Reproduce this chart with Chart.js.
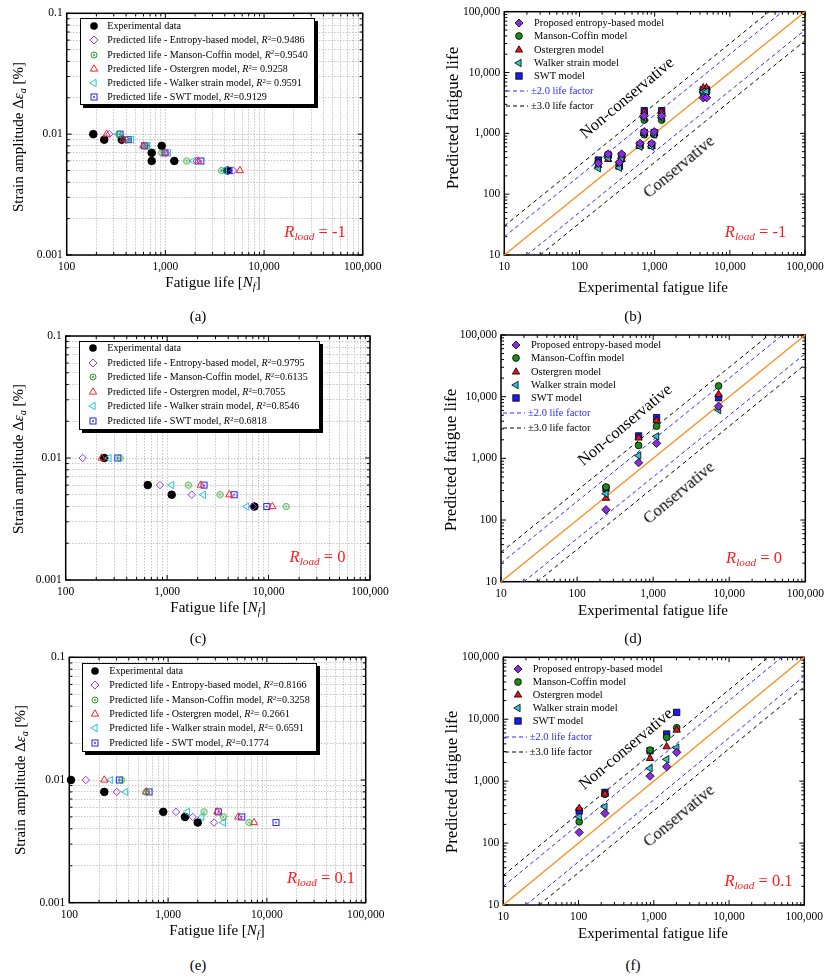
<!DOCTYPE html>
<html>
<head>
<meta charset="utf-8">
<title>Fatigue life predictions</title>
<script src="https://cdn.jsdelivr.net/npm/chart.js@4.4.1/dist/chart.umd.min.js"></script>
<style>
  html, body { margin: 0; padding: 0; background: #fff; }
  #page { position: relative; width: 829px; height: 980px; overflow: hidden;
          font-family: 'Liberation Serif', 'Times New Roman', serif; color: #000; }
  #page canvas { position: absolute; }
  .t { position: absolute; white-space: nowrap; line-height: 1; transform: translate(-50%, -50%); }
  .l { position: absolute; white-space: nowrap; line-height: 1; transform: translate(0, -50%); font-size: 10.5px; }
  .ls { font-size: 10.1px; }
  .rot { transform: translate(-50%, -50%) rotate(-90deg); }
  .diag { transform: translate(-50%, -50%) rotate(-40deg); font-size: 16.5px; }
  .ttl { font-size: 15px; }
  .pl { font-size: 15px; }
  .rl { color: #ff1a1a; font-size: 16.5px; }
  sub, sup { font-size: 68%; line-height: 0; position: relative; vertical-align: baseline; }
  sub { top: 0.3em; }
  sup { top: -0.45em; }
  .legbox { position: absolute; background: #fff; border: 1px solid #000; box-shadow: 3px 3px 0 #000; }
  svg { display: block; }
</style>
</head>
<body>
<div id="page"></div>
<script>
// ---------- data ----------
// axis ranges
const strainRange = [0.001, 0.1];
const lifeRange = [100, 100000];
const predRange = [10, 100000];

// (a) R_load = -1 : strain amplitude vs. fatigue life
const expLifeA   = [186, 240, 361, 918, 727, 727, 1232, 4270];
const expStrainA = [0.01, 0.009, 0.009, 0.008, 0.007, 0.006, 0.006, 0.005];
const strainA    = [0.01, 0.009, 0.008, 0.007, 0.006, 0.005];
const entropyA   = [270, 399, 621, 1010, 2074, 4875];
const mansonA    = [340, 410, 640, 918, 1644, 3716];
const ostergrenA = [254, 374, 597, 1000, 2153, 5700];
const walkerA    = [333, 455, 661, 1071, 1920, 3955];
const swtA       = [347, 421, 615, 991, 2290, 4410];
const r2A = ['0.9486', '0.9540', ' 0.9258', ' 0.9591', '0.9129'];

// (b) R_load = -1 : predicted vs. experimental life
const expB       = [178, 241, 339, 364, 638, 728, 728, 912, 988, 1239, 4430, 4900];
const entropyB   = [321, 457, 334, 457, 684, 1950, 1062, 684, 1062, 1950, 3850, 3850];
const mansonB    = [335, 420, 300, 420, 640, 1650, 950, 640, 950, 1650, 4600, 4700];
const ostergrenB = [300, 373, 280, 373, 610, 2250, 1000, 610, 1000, 2250, 5600, 5600];
const walkerB    = [266, 390, 272, 388, 603, 1800, 980, 603, 960, 1800, 4830, 4830];
const swtB       = [364, 440, 310, 430, 650, 2357, 1030, 650, 1030, 2357, 5200, 5200];

// (c) and (d) R_load = 0
const expLifeC   = [240, 644, 1109, 7244];
const strainC    = [0.01, 0.006, 0.005, 0.004];
const entropyC   = [147, 851, 1750, 7000];
const mansonC    = [343, 1618, 3326, 14900];
const ostergrenC = [226, 2142, 4104, 10900];
const walkerC    = [267, 1109, 2275, 6095];
const swtC       = [326, 2311, 4570, 9600];
const r2C = ['0.9795', '0.6135', '0.7055', '0.8546', '0.6818'];

// (e) R_load = 0.1
const expLifeE   = [104, 226, 893, 1483, 1995];
const strainE    = [0.01, 0.008, 0.0055, 0.005, 0.0045];
const entropyE   = [147, 302, 1202, 1774, 2918];
const mansonE    = [339, 600, 2306, 3624, 6590];
const ostergrenE = [226, 597, 3147, 5130, 7413];
const walkerE    = [262, 372, 1564, 2188, 3624];
const swtE       = [321, 641, 3222, 5560, 12360];
const r2E = ['0.8166', '0.3258', ' 0.2661', ' 0.6591', '0.1774'];

// (f) R_load = 0.1
const expF       = [102, 224, 891, 1483, 2014];
const entropyF   = [149, 302, 1208, 1710, 2920];
const mansonF    = [221, 612, 3177, 5100, 7290];
const ostergrenF = [363, 620, 2334, 3600, 6700];
const walkerF    = [266, 386, 1611, 2250, 3470];
const swtF       = [329, 659, 3100, 5770, 12900];

// reference lines (end points)
const equalX  = [10, 100000],  equalY  = [10, 100000];
const upper2X = [10, 50000],   upper2Y = [20, 100000];
const lower2X = [20, 100000],  lower2Y = [10, 50000];
const upper3X = [10, 33333],   upper3Y = [30, 100000];
const lower3X = [30, 100000],  lower3Y = [10, 33333];

const modelNamesL = ['Entropy-based model', 'Manson-Coffin model', 'Ostergren model', 'Walker strain model', 'SWT model'];
const modelNamesR = ['Proposed entropy-based model', 'Manson-Coffin model', 'Ostergren model', 'Walker strain model', 'SWT model'];
const rLoads = ['-1', '0', '0.1'];

// ---------- styling / layout ----------
const SERIF = "'Liberation Serif', 'Times New Roman', serif";
const openCol = { entropy: '#9b35e8', manson: '#1f9d1f', ostergren: '#ff1f1f', walker: '#22c4d4', swt: '#1f1fff' };
const fillCol = { entropy: '#8a2be2', manson: '#1e8a1e', ostergren: '#e8101a', walker: '#2ec6cc', swt: '#1a1af5' };

// canvas box [left, top, width, height] and plot area [left, top, right, bottom]
const PANELS = {
  a: { box: [0, 0, 410, 300],     area: [66.7, 13.3, 362.7, 255] },
  b: { box: [415, 0, 414, 300],   area: [504.3, 11.7, 805, 255] },
  c: { box: [0, 322, 410, 300],   area: [65.7, 336, 370, 580] },
  d: { box: [415, 322, 414, 300], area: [501, 335, 805.7, 581.7] },
  e: { box: [0, 644, 410, 300],   area: [69.3, 657.3, 365.7, 902.7] },
  f: { box: [415, 644, 414, 300], area: [503.3, 657.3, 804.3, 905] }
};

const page = document.getElementById('page');

function isMajor(v) {
  const l = Math.log10(v);
  return Math.abs(l - Math.round(l)) < 1e-6;
}
function fmt(v) {
  return v >= 1 ? v.toLocaleString('en-US') : String(+v.toPrecision(3));
}
function logTicks(min, max) {
  const t = [];
  for (let d = min; d < max * 0.999; d *= 10) {
    for (let m = 1; m < 10; m++) t.push(+(m * d).toPrecision(6));
  }
  t.push(max);
  return t;
}
function pts(xs, ys) {
  return xs.map((v, i) => ({ x: v, y: ys[i] }));
}

// marker images for the open circle / square with a centre dot
function dotMarker(kind, color) {
  const c = document.createElement('canvas');
  c.width = c.height = 9;
  const g = c.getContext('2d');
  g.strokeStyle = color; g.fillStyle = color; g.lineWidth = 1;
  if (kind === 'circle') {
    g.beginPath(); g.arc(4.5, 4.5, 3, 0, Math.PI * 2); g.stroke();
  } else {
    g.strokeRect(1.5, 1.5, 6, 6);
  }
  g.beginPath(); g.arc(4.5, 4.5, 0.9, 0, Math.PI * 2); g.fill();
  return c;
}

// frame box + inward ticks on all four sides
const framePlugin = {
  id: 'frame',
  beforeDatasetsDraw(chart) {
    const { ctx, chartArea: a, scales } = chart;
    ctx.save();
    ctx.strokeStyle = '#000';
    ctx.lineWidth = 1;
    ctx.beginPath();
    scales.x.ticks.forEach(t => {
      const p = scales.x.getPixelForValue(t.value);
      const len = isMajor(t.value) ? 5 : 3;
      ctx.moveTo(p, a.bottom); ctx.lineTo(p, a.bottom - len);
      ctx.moveTo(p, a.top); ctx.lineTo(p, a.top + len);
    });
    scales.y.ticks.forEach(t => {
      const p = scales.y.getPixelForValue(t.value);
      const len = isMajor(t.value) ? 5 : 3;
      ctx.moveTo(a.left, p); ctx.lineTo(a.left + len, p);
      ctx.moveTo(a.right, p); ctx.lineTo(a.right - len, p);
    });
    ctx.stroke();
    ctx.lineWidth = 1.5;
    ctx.strokeRect(a.left, a.top, a.right - a.left, a.bottom - a.top);
    ctx.restore();
  }
};

function makePanel(key, datasets, xRange, yRange, showGrid) {
  const [bl, bt, bw, bh] = PANELS[key].box;
  const [al, at, ar, ab] = PANELS[key].area;
  const cv = document.createElement('canvas');
  cv.width = bw; cv.height = bh;
  cv.style.left = bl + 'px'; cv.style.top = bt + 'px';
  cv.style.width = bw + 'px'; cv.style.height = bh + 'px';
  page.appendChild(cv);

  const axis = (range, fit, pad) => ({
    type: 'logarithmic',
    min: range[0],
    max: range[1],
    afterBuildTicks: s => { s.ticks = logTicks(range[0], range[1]).map(v => ({ value: v, major: isMajor(v) })); },
    afterFit: fit,
    ticks: {
      autoSkip: false, maxRotation: 0, minRotation: 0, color: '#000', padding: pad,
      font: { family: SERIF, size: 11.5 },
      callback: v => isMajor(v) ? fmt(v) : ''
    },
    grid: { display: showGrid, drawTicks: false, color: '#b8b8b8', lineWidth: 0.8 },
    border: { display: false, dash: [1.5, 1.5] }
  });

  return new Chart(cv, {
    type: 'scatter',
    data: { datasets },
    options: {
      responsive: false,
      animation: false,
      devicePixelRatio: 1,
      events: [],
      layout: { padding: { left: 0, top: at - bt, right: bl + bw - ar, bottom: 0 } },
      plugins: { legend: { display: false }, tooltip: { enabled: false } },
      scales: {
        x: axis(xRange, s => { s.height = bt + bh - ab; }, 5),
        y: axis(yRange, s => { s.width = al - bl; }, 4)
      }
    },
    plugins: [framePlugin]
  });
}

// strain-life panels: open markers, experimental drawn underneath
function strainSets(strain, ent, man, ost, wal, swt, expLife, expStrain) {
  const base = { showLine: false, clip: false, borderWidth: 1, backgroundColor: 'rgba(0,0,0,0)' };
  return [
    { ...base, data: pts(ent, strain), pointStyle: 'rectRot', pointRadius: 3.7, borderColor: openCol.entropy },
    { ...base, data: pts(man, strain), pointStyle: dotMarker('circle', openCol.manson), pointRadius: 4 },
    { ...base, data: pts(ost, strain), pointStyle: 'triangle', pointRadius: 4.2, borderColor: openCol.ostergren },
    { ...base, data: pts(wal, strain), pointStyle: 'triangle', pointRotation: -90, pointRadius: 4.2, borderColor: openCol.walker },
    { ...base, data: pts(swt, strain), pointStyle: dotMarker('square', openCol.swt), pointRadius: 4 },
    { ...base, data: pts(expLife, expStrain), pointStyle: 'circle', pointRadius: 3.8, backgroundColor: '#000', borderColor: '#000' }
  ];
}

// predicted-vs-experimental panels: filled markers over the factor lines
function predSets(expL, ent, man, ost, wal, swt) {
  const base = { showLine: false, clip: false, borderWidth: 0.8, borderColor: '#000' };
  const line = (xs, ys, color, dash) => ({
    data: pts(xs, ys), showLine: true, pointRadius: 0, clip: false,
    borderColor: color, borderWidth: dash ? 1 : 1.3, borderDash: dash || []
  });
  return [
    { ...base, data: pts(expL, ent), pointStyle: 'rectRot', pointRadius: 4.2, backgroundColor: fillCol.entropy },
    { ...base, data: pts(expL, wal), pointStyle: 'triangle', pointRotation: -90, pointRadius: 4.3, backgroundColor: fillCol.walker },
    { ...base, data: pts(expL, ost), pointStyle: 'triangle', pointRadius: 4.3, backgroundColor: fillCol.ostergren },
    { ...base, data: pts(expL, man), pointStyle: 'circle', pointRadius: 3.4, backgroundColor: fillCol.manson },
    { ...base, data: pts(expL, swt), pointStyle: 'rect', pointRadius: 4.5, backgroundColor: fillCol.swt },
    line(equalX, equalY, '#ff8a1a', null),
    line(upper2X, upper2Y, '#2b2bff', [4, 3]),
    line(lower2X, lower2Y, '#2b2bff', [4, 3]),
    line(upper3X, upper3Y, '#000000', [4, 3.5]),
    line(lower3X, lower3Y, '#000000', [4, 3.5])
  ];
}

makePanel('a', strainSets(strainA, entropyA, mansonA, ostergrenA, walkerA, swtA, expLifeA, expStrainA), lifeRange, strainRange, true);
makePanel('c', strainSets(strainC, entropyC, mansonC, ostergrenC, walkerC, swtC, expLifeC, strainC), lifeRange, strainRange, true);
makePanel('e', strainSets(strainE, entropyE, mansonE, ostergrenE, walkerE, swtE, expLifeE, strainE), lifeRange, strainRange, true);
makePanel('b', predSets(expB, entropyB, mansonB, ostergrenB, walkerB, swtB), predRange, predRange, false);
makePanel('d', predSets(expLifeC, entropyC, mansonC, ostergrenC, walkerC, swtC), predRange, predRange, false);
makePanel('f', predSets(expF, entropyF, mansonF, ostergrenF, walkerF, swtF), predRange, predRange, false);

// ---------- text overlays ----------
function put(cls, html, x, y, css) {
  const d = document.createElement('div');
  d.className = cls;
  d.innerHTML = html;
  d.style.left = x + 'px';
  d.style.top = y + 'px';
  if (css) d.style.cssText += css;
  page.appendChild(d);
  return d;
}

function markerSVG(kind, color, filled) {
  const s = filled ? `fill="${color}" stroke="#000" stroke-width="0.8"` : `fill="none" stroke="${color}" stroke-width="1"`;
  const dot = `<circle cx="6" cy="6" r="0.9" fill="${color}"/>`;
  let body = '';
  if (kind === 'exp') body = '<circle cx="6" cy="6" r="3.8" fill="#000"/>';
  if (kind === 'diamond') body = `<polygon points="6,2 10,6 6,10 2,6" ${s}/>`;
  if (kind === 'circle') body = filled ? `<circle cx="6" cy="6" r="3.4" ${s}/>` : `<circle cx="6" cy="6" r="3" ${s}/>` + dot;
  if (kind === 'triangle') body = `<polygon points="6,1.8 9.7,8.1 2.3,8.1" ${s}/>`;
  if (kind === 'left') body = `<polygon points="1.8,6 8.1,2.3 8.1,9.7" ${s}/>`;
  if (kind === 'square') body = filled ? `<rect x="2.8" y="2.8" width="6.4" height="6.4" ${s}/>` : `<rect x="3" y="3" width="6" height="6" ${s}/>` + dot;
  return `<svg width="12" height="12" viewBox="0 0 12 12">${body}</svg>`;
}
const kinds = ['diamond', 'circle', 'triangle', 'left', 'square'];
const keys = ['entropy', 'manson', 'ostergren', 'walker', 'swt'];

function legendLeft(box, mx, tx, y0, step, r2) {
  put('legbox', '', box[0], box[1], `width:${box[2] - box[0]}px;height:${box[3] - box[1]}px;`);
  put('t', markerSVG('exp'), mx, y0);
  put('l ls', 'Experimental data', tx, y0);
  modelNamesL.forEach((name, i) => {
    const y = y0 + step * (i + 1);
    put('t', markerSVG(kinds[i], openCol[keys[i]], false), mx, y);
    put('l ls', `Predicted life - ${name}, <i>R</i><sup>2</sup>=${r2[i]}`, tx, y);
  });
}

function legendRight(mx, tx, y0, step) {
  modelNamesR.forEach((name, i) => {
    const y = y0 + step * i;
    put('t', markerSVG(kinds[i], fillCol[keys[i]], true), mx, y);
    put('l', name, tx, y);
  });
  const lines = [['±2.0 life factor', '#2b2bff', 68], ['±3.0 life factor', '#000', 83]];
  lines.forEach(([txt, col, dy]) => {
    const y = y0 + dy;
    put('t', `<svg width="22" height="4"><line x1="0" y1="2" x2="22" y2="2" stroke="${col}" stroke-width="1" stroke-dasharray="4,3"/></svg>`, mx - 2, y);
    put('l', txt, tx - 3, y, `color:${col};`);
  });
}

legendLeft([80, 18.3, 313, 103.3], 94.3, 107.3, 26, 14.25, r2A);
legendLeft([79.3, 340.7, 318.3, 428.3], 93.3, 107.3, 348.3, 14.5, r2C);
legendLeft([81.7, 663.3, 315, 750], 95, 109.3, 671, 14.35, r2E);
legendRight(519, 534, 23.3, 13.1);
legendRight(516, 531, 345, 13.3);
legendRight(518, 532.7, 669, 13.1);

// axis titles
const yTitleL = 'Strain amplitude Δ<i>ε<sub>a</sub></i> [%]';
const xTitleL = 'Fatigue life [<i>N<sub>f</sub></i>]';
const xTitleR = 'Experimental fatigue life';
const yTitleR = 'Predicted fatigue life';
[[213, 282, 18, 137], [218, 606.7, 18, 459], [217, 930, 20, 780]].forEach(([xx, xy, yx, yy]) => {
  put('t ttl', xTitleL, xx, xy);
  put('t ttl rot', yTitleL, yx, yy);
});
[[653, 287, 452, 118], [653, 610, 450, 460], [653, 933, 451, 782]].forEach(([xx, xy, yx, yy]) => {
  put('t ttl', xTitleR, xx, xy);
  put('t ttl rot', yTitleR, yx, yy, 'font-size:17px;');
});

// R_load annotations
[[315, 232, 0], [317.5, 557, 1], [321, 878, 2], [755.5, 232, 0], [754, 558, 1], [758.5, 881, 2]].forEach(([x, y, i]) => {
  put('t rl', `<i>R<sub>load</sub></i> = ${rLoads[i]}`, x, y);
});

// region labels
[[627, 98, 679, 167], [625, 425, 679, 493], [626, 749, 679, 816]].forEach(([nx, ny, cx, cy]) => {
  put('t diag', 'Non-conservative', nx, ny);
  put('t diag', 'Conservative', cx, cy);
});

// panel letters
[['(a)', 198, 316], ['(b)', 633, 316], ['(c)', 198, 638], ['(d)', 633, 638], ['(e)', 198, 965], ['(f)', 633, 965]].forEach(([s, x, y]) => {
  put('t pl', s, x, y);
});
</script>
</body>
</html>
